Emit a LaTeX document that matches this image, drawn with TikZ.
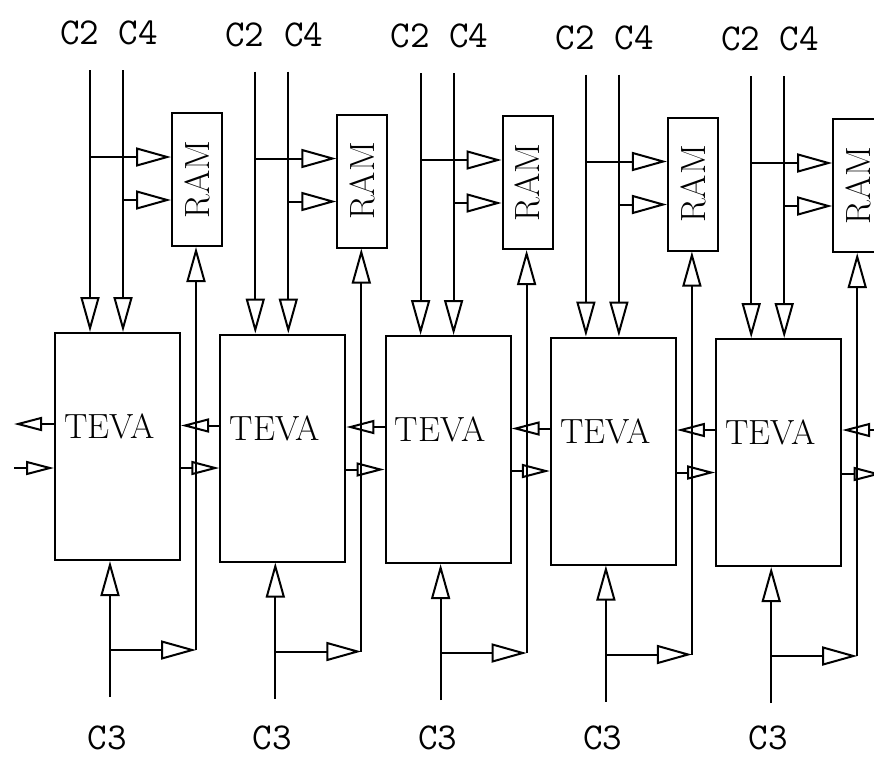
\documentclass[tikz,border=0pt]{standalone}
\usepackage{fontspec}
\usepackage{graphicx}
\usepackage{tikz}
\usetikzlibrary{arrows.meta, positioning}

\begin{document}
\begin{tikzpicture}[x=1pt,y=-1pt,line width=2pt,
    box/.style={draw,line width=2pt,inner sep=0pt},
    bigtip/.style={-{Triangle[open,length=35pt,width=19pt]}},
    smalltip/.style={-{Triangle[open,length=28pt,width=14pt]}},
    lbl/.style={font=\fontsize{38}{38}\ttfamily\selectfont,inner sep=0pt},
    boxfont/.style={font=\fontsize{35}{35}\selectfont}]
    \useasboundingbox (0,0) rectangle (874,761);
    \clip (0,0) rectangle (874,761);

    \foreach \i in {0,...,4} {
      \pgfmathsetmacro{\dx}{165.3*\i}
      \pgfmathsetmacro{\dy}{1.5*\i}
      \pgfmathsetmacro{\ly}{738-\dy}
      \begin{scope}[shift={(\dx,\dy)}]
        \node[box,minimum width=125pt,minimum height=227pt,
          label={[xshift=-8pt,yshift=20pt,boxfont]center:TEVA}] (teva\i) at (117.5,446.5) {};
        \node[box,minimum width=50pt,minimum height=133pt,boxfont] (ram\i) at (197,179.5) {\rotatebox{90}{RAM}};
        \node[lbl] (top\i) at (109,33) {C2 C4};
        \node[lbl] (bot\i) at (107,\ly) {C3};

        \coordinate (c2\i) at (90,70);
        \coordinate (c4\i) at (123,70);
        \coordinate (b2\i) at (90,157);
        \coordinate (b4\i) at (123,200);
        \coordinate (fb\i) at (196,650);
        \coordinate (c3\i) at (110,697);
        \coordinate (b3\i) at (110,650);

        \draw[bigtip] (c2\i) -- (c2\i |- teva\i.north);
        \draw[bigtip] (c4\i) -- (c4\i |- teva\i.north);
        \draw[bigtip] (b2\i) -- (b2\i -| ram\i.west);
        \draw[bigtip] (b4\i) -- (b4\i -| ram\i.west);
        \draw[bigtip] (c3\i) -- (c3\i |- teva\i.south);
        \draw[bigtip] (b3\i) -- (fb\i);
        \draw[bigtip] (fb\i) -- (fb\i |- ram\i.south);
      \end{scope}
    }

    % links between neighbouring TEVA blocks
    \foreach \i/\j in {0/1,1/2,2/3,3/4} {
      \draw[smalltip] ([yshift=22.5pt]teva\j.west) -- ([yshift=22.5pt]teva\j.west -| teva\i.east);
      \draw[smalltip] ([yshift=-21.5pt]teva\i.east) -- ([yshift=-21.5pt]teva\i.east -| teva\j.west);
    }

    % open ends at both sides
    \coordinate (edgeL) at (14,446.5);
    \coordinate (edgeR) at (881.5,452.5);
    \draw[smalltip] ([yshift=22.5pt]teva0.west) -- ([yshift=22.5pt]teva0.west -| edgeL);
    \draw[smalltip] ([yshift=-21.5pt]teva0.west -| edgeL) -- ([yshift=-21.5pt]teva0.west);
    \draw[smalltip] ([yshift=22.5pt]teva4.east -| edgeR) -- ([yshift=22.5pt]teva4.east);
    \draw[smalltip] ([yshift=-21.5pt]teva4.east) -- ([yshift=-21.5pt]teva4.east -| edgeR);
\end{tikzpicture}
\end{document}
